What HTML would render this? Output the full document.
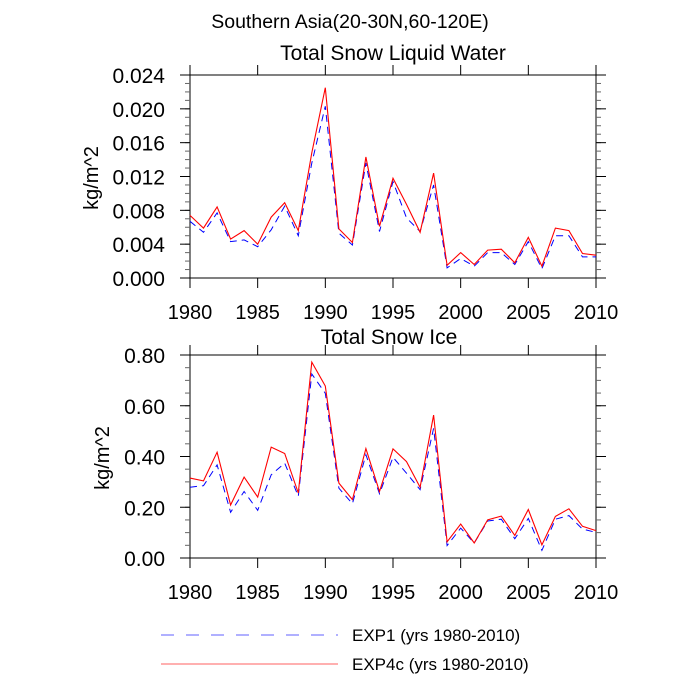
<!DOCTYPE html>
<html><head><meta charset="utf-8"><style>
html,body{margin:0;padding:0;background:#fff;}
svg{display:block;font-family:"Liberation Sans",Helvetica,sans-serif;}
</style></head><body>
<svg id="chart" width="700" height="700" viewBox="0 0 700 700" xmlns="http://www.w3.org/2000/svg">
<text x="350" y="28" font-size="19.5" text-anchor="middle">Southern Asia(20-30N,60-120E)</text>
<text x="393" y="60" font-size="21" text-anchor="middle">Total Snow Liquid Water</text>
<text x="389" y="344" font-size="21" text-anchor="middle">Total Snow Ice</text>
<text transform="translate(98,178) rotate(-90)" font-size="20" text-anchor="middle">kg/m^2</text>
<text transform="translate(109,458) rotate(-90)" font-size="20" text-anchor="middle">kg/m^2</text>
<g>
<line x1="161" y1="635" x2="338" y2="635" stroke="#6060ff" stroke-width="1" stroke-dasharray="13,12"/>
<text x="352" y="641" font-size="17">EXP1 (yrs 1980-2010)</text>
<line x1="161" y1="664" x2="338" y2="664" stroke="#ff6060" stroke-width="1"/>
<text x="352" y="670" font-size="17">EXP4c (yrs 1980-2010)</text>
</g>
</svg>
<script>
const years = [1980,1981,1982,1983,1984,1985,1986,1987,1988,1989,1990,1991,1992,1993,1994,1995,1996,1997,1998,1999,2000,2001,2002,2003,2004,2005,2006,2007,2008,2009,2010];
const liqExp4c = [0.0074,0.0059,0.0084,0.0046,0.0056,0.0040,0.0072,0.0089,0.0056,0.0148,0.0225,0.0058,0.0042,0.0143,0.0061,0.0118,0.0087,0.0054,0.0124,0.0015,0.0030,0.0016,0.0033,0.0034,0.0018,0.0048,0.0014,0.0059,0.0056,0.0029,0.0027];
const liqExp1 = [0.0067,0.0054,0.0077,0.0043,0.0045,0.0037,0.0057,0.0085,0.0050,0.0136,0.0203,0.0053,0.0039,0.0136,0.0055,0.0114,0.0071,0.0055,0.0110,0.0012,0.0023,0.0014,0.0030,0.0030,0.0016,0.0043,0.0011,0.0050,0.0050,0.0025,0.0025];
const iceExp4c = [0.315,0.304,0.417,0.209,0.319,0.240,0.437,0.412,0.256,0.772,0.678,0.295,0.230,0.431,0.262,0.430,0.380,0.279,0.563,0.064,0.134,0.059,0.150,0.165,0.089,0.191,0.052,0.164,0.194,0.125,0.108];
const iceExp1 = [0.279,0.285,0.367,0.180,0.262,0.188,0.328,0.374,0.243,0.725,0.649,0.275,0.214,0.407,0.253,0.397,0.334,0.269,0.511,0.049,0.118,0.059,0.146,0.153,0.076,0.156,0.030,0.153,0.167,0.114,0.101];
const xTicks = [1980,1985,1990,1995,2000,2005,2010];
const liqYTicks = [0,0.004,0.008,0.012,0.016,0.020,0.024];
const liqYLabels = ["0.000","0.004","0.008","0.012","0.016","0.020","0.024"];
const iceYTicks = [0,0.2,0.4,0.6,0.8];
const iceYLabels = ["0.00","0.20","0.40","0.60","0.80"];

const NS = "http://www.w3.org/2000/svg";
const svg = document.getElementById('chart');
function mk(tag, attrs, parent){
  const e = document.createElementNS(NS, tag);
  for (const k in attrs) e.setAttribute(k, attrs[k]);
  (parent||svg).appendChild(e);
  return e;
}
function panel(name, top, bottom, ymax, yTicks, yLabels, minorStep, red, blue){
  const L = 190, R = 596;
  const g = mk('g', {});
  
  
  const x = v => L + (v - 1980) / 30 * (R - L);
  const y = v => bottom - v / ymax * (bottom - top);
  const box = mk('rect', {x:L, y:top, width:R-L, height:bottom-top, fill:'none', stroke:'#000', 'stroke-width':1}, g);
  
  
  for (let v = 0; v <= ymax + 1e-9; v += minorStep){
    mk('line', {x1:L-5, x2:L, y1:y(v), y2:y(v), stroke:'#666', 'stroke-width':1}, g);
    mk('line', {x1:R, x2:R+5, y1:y(v), y2:y(v), stroke:'#666', 'stroke-width':1}, g);
  }
  yTicks.forEach((v, i) => {
    mk('line', {x1:L-10, x2:L, y1:y(v), y2:y(v), stroke:'#000', 'stroke-width':1}, g);
    mk('line', {x1:R, x2:R+10, y1:y(v), y2:y(v), stroke:'#000', 'stroke-width':1}, g);
    const t = mk('text', {x:L-25, y:y(v)+8, 'font-size':21, 'text-anchor':'end'}, g);
    t.textContent = yLabels[i];
    
    
  });
  xTicks.forEach(v => {
    mk('line', {x1:x(v), x2:x(v), y1:top-10, y2:top, stroke:'#000', 'stroke-width':1}, g);
    mk('line', {x1:x(v), x2:x(v), y1:bottom, y2:bottom+10, stroke:'#000', 'stroke-width':1}, g);
    const t = mk('text', {x:x(v), y:bottom+41, 'font-size':20, 'text-anchor':'middle'}, g);
    t.textContent = String(v);
    
    
  });
  const pts = arr => arr.map((v, i) => x(years[i]).toFixed(1) + ',' + y(v).toFixed(1)).join(' ');
  const b = mk('polyline', {points:pts(blue), fill:'none', stroke:'#0000ff', 'stroke-width':1, 'stroke-dasharray':'7,5'}, g);
  
  
  const r = mk('polyline', {points:pts(red), fill:'none', stroke:'#ff0000', 'stroke-width':1.1}, g);
  
  
}
panel('liquid-water-panel', 75, 278, 0.024, liqYTicks, liqYLabels, 0.001, liqExp4c, liqExp1);
panel('snow-ice-panel', 355, 558, 0.8, iceYTicks, iceYLabels, 0.05, iceExp4c, iceExp1);
</script>
</body></html>
